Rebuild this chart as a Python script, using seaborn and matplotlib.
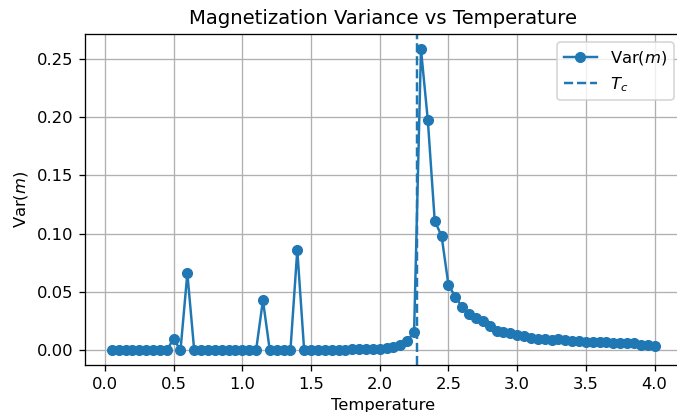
import numpy as np
import matplotlib
matplotlib.use("Agg")
import matplotlib.pyplot as plt
import seaborn as sns

# Temperatures 0.05 .. 4.00 in steps of 0.05
temperatures = [round(0.05 * i, 2) for i in range(1, 81)]

var_m = [
    # 0.05 - 0.50
    0.0, 0.0, 0.0, 0.0, 0.0, 0.0, 0.0, 0.0, 0.0, 0.010,
    # 0.55 - 1.00
    0.0, 0.066, 0.0, 0.0, 0.0, 0.0, 0.0, 0.0, 0.0, 0.0,
    # 1.05 - 1.50
    0.0, 0.0, 0.043, 0.0, 0.0, 0.0, 0.0, 0.086, 0.0, 0.0,
    # 1.55 - 2.00
    0.0002, 0.0002, 0.0003, 0.0003, 0.0005, 0.0008, 0.001, 0.0012, 0.0012, 0.0015,
    # 2.05 - 2.50
    0.002, 0.003, 0.005, 0.008, 0.016, 0.258, 0.197, 0.111, 0.098, 0.056,
    # 2.55 - 3.00
    0.046, 0.037, 0.031, 0.028, 0.025, 0.021, 0.017, 0.016, 0.015, 0.013,
    # 3.05 - 3.50
    0.012, 0.011, 0.010, 0.010, 0.009, 0.010, 0.009, 0.008, 0.008, 0.007,
    # 3.55 - 4.00
    0.007, 0.007, 0.007, 0.006, 0.006, 0.006, 0.006, 0.005, 0.005, 0.004,
]

t_c = 2.269

# reference looks like a ~118 dpi render, cropped a little on the right
dpi = 118
fig, ax = plt.subplots(figsize=(677 / dpi, 412 / dpi), dpi=dpi)
fig.subplots_adjust(left=0.125, right=1.007, top=0.917, bottom=0.113)

sns.lineplot(x=temperatures, y=var_m, ax=ax, marker="o", color="#1f77b4",
             markeredgecolor="#1f77b4", markersize=6, linewidth=1.5,
             label="Var($m$)")
ax.axvline(t_c, linestyle="--", color="#1f77b4", linewidth=1.5, label="$T_c$")

ax.set_title("Magnetization Variance vs Temperature")
ax.set_xlabel("Temperature")
ax.set_ylabel("Var($m$)")
ax.set_xticks(np.arange(0, 4.01, 0.5))
ax.grid(True)
ax.legend(loc="upper right")

plt.savefig("out.png", dpi=dpi)
